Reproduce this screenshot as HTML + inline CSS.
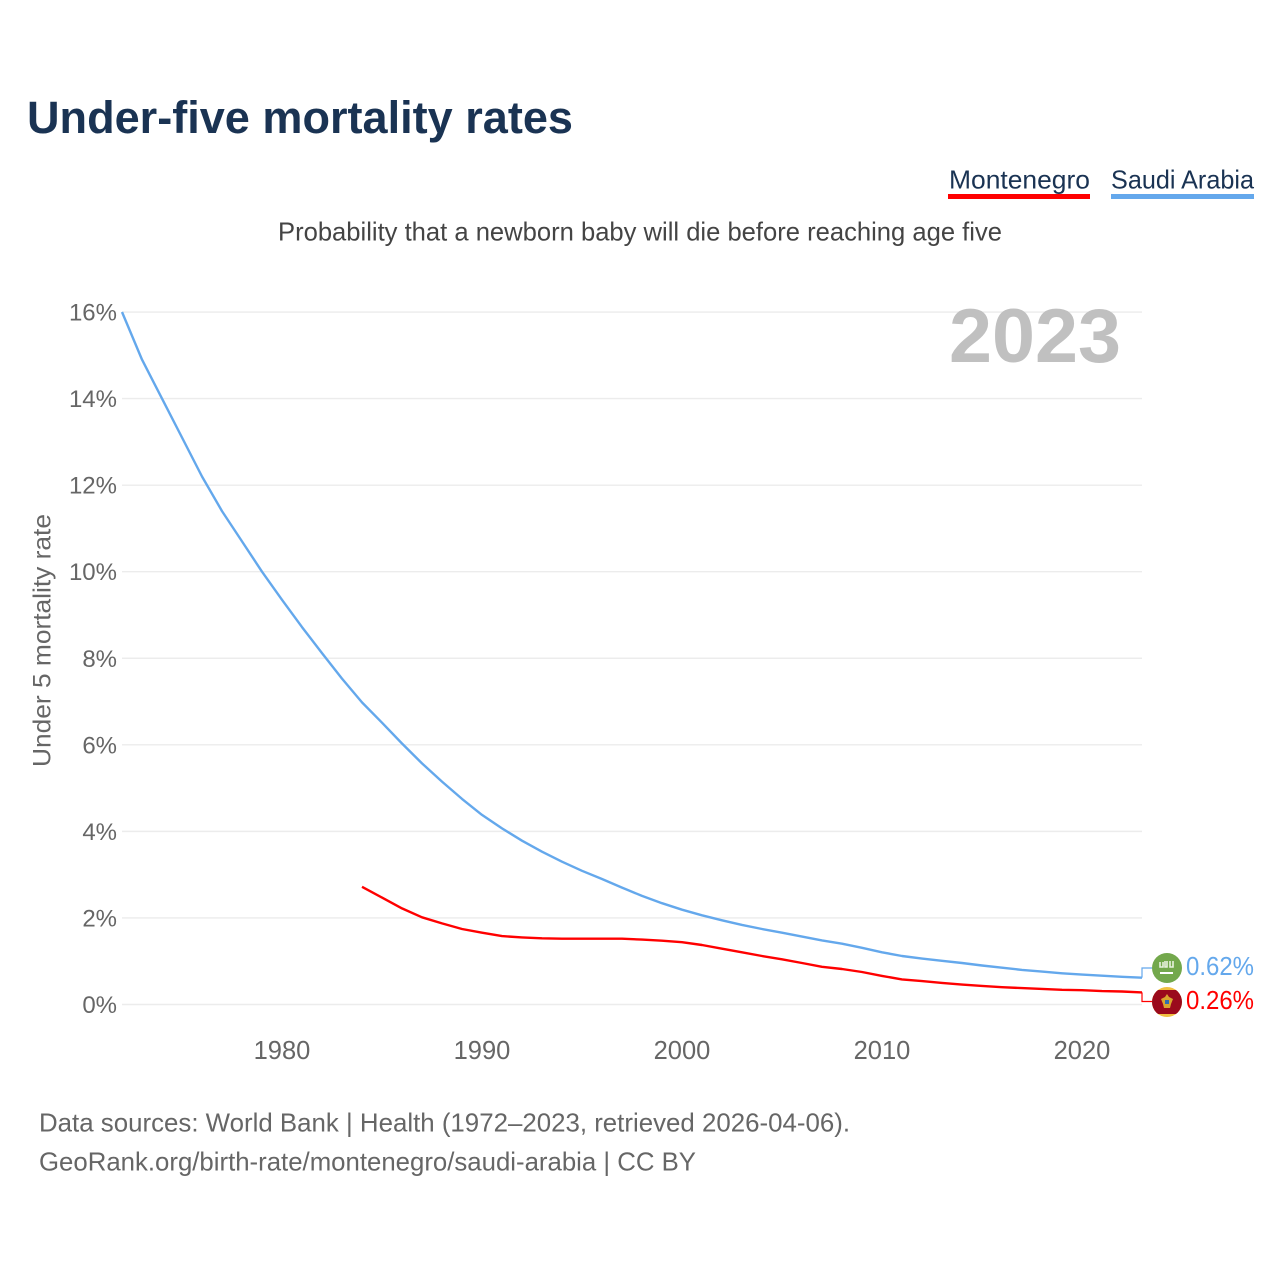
<!DOCTYPE html>
<html lang="en">
<head>
<meta charset="utf-8">
<title>Under-five mortality rates</title>
<style>
html,body{margin:0;padding:0;background:#fff;width:1280px;height:1280px;overflow:hidden}
svg{display:block}
text{font-family:"Liberation Sans",sans-serif}
</style>
</head>
<body>
<svg id="chart" width="1280" height="1280" viewBox="0 0 1280 1280" xmlns="http://www.w3.org/2000/svg">
  <defs>
    <clipPath id="flag-clip-me"><circle cx="1167" cy="1002" r="15"/></clipPath>
  </defs>
  <rect width="1280" height="1280" fill="#fff"/>
  <text x="27" y="133" font-size="45" font-weight="700" fill="#1a3353" textLength="546" lengthAdjust="spacingAndGlyphs">Under-five mortality rates</text>
  <g>
    <text x="949" y="188.5" font-size="26" fill="#1a3353" textLength="141" lengthAdjust="spacingAndGlyphs">Montenegro</text>
    <rect x="948" y="194" width="142" height="5" fill="#ff0000"/>
  </g>
  <g>
    <text x="1111" y="188.5" font-size="26" fill="#1a3353" textLength="143" lengthAdjust="spacingAndGlyphs">Saudi Arabia</text>
    <rect x="1111" y="194" width="143" height="5" fill="#64a8ec"/>
  </g>
  <text x="278" y="240.5" font-size="26" fill="#444" textLength="724" lengthAdjust="spacingAndGlyphs">Probability that a newborn baby will die before reaching age five</text>
  <g id="grid"></g>
  <g id="yticks"></g>
  <g id="xticks"></g>
  <text transform="translate(50.5,767) rotate(-90)" font-size="25" fill="#666" textLength="253" lengthAdjust="spacingAndGlyphs">Under 5 mortality rate</text>
  <text x="949" y="362" font-size="76" font-weight="700" fill="#c0c0c0" textLength="172" lengthAdjust="spacingAndGlyphs">2023</text>
  <g id="series"></g>
  <g>
    <circle cx="1167" cy="968" r="15" fill="#73a84c"/>
    <path d="M1160 962v5h3v-5M1165 961v6h2v-6M1170 961v6h3v-6" fill="none" stroke="#e8f1de" stroke-width="1.6"/>
    <path d="M1160 973h13" fill="none" stroke="#fff" stroke-width="2"/>
  </g>
  <g clip-path="url(#flag-clip-me)">
    <rect x="1152" y="987" width="30" height="30" fill="#f0c040"/>
    <rect x="1152" y="990" width="30" height="24" fill="#9a0a1c"/>
    <path d="M1167 994l2 3 4 2-2 5-1 4h-6l-1-4-2-5 4-2z" fill="#d9a62e"/>
    <rect x="1165" y="1000" width="4" height="4" fill="#2f6fb0"/>
  </g>
  <g id="endlabels"></g>
  <text x="39" y="1131.5" font-size="26" fill="#666" textLength="811" lengthAdjust="spacingAndGlyphs">Data sources: World Bank | Health (1972–2023, retrieved 2026-04-06).</text>
  <text x="39" y="1170.5" font-size="26" fill="#666" textLength="657" lengthAdjust="spacingAndGlyphs">GeoRank.org/birth-rate/montenegro/saudi-arabia | CC BY</text>
</svg>
<script>
var yTickValues = [0, 2, 4, 6, 8, 10, 12, 14, 16];
var xTickValues = [1980, 1990, 2000, 2010, 2020];
var saudiStartYear = 1972;
var saudiValues = [
  16.0, 14.9, 14.0, 13.1, 12.2, 11.4, 10.7, 10.0,
  9.35, 8.72, 8.12, 7.53, 6.98, 6.51, 6.03, 5.57, 5.15, 4.75, 4.38, 4.07,
  3.785, 3.53, 3.30, 3.09, 2.90, 2.70, 2.51, 2.34, 2.19, 2.06,
  1.945, 1.84, 1.745, 1.66, 1.57, 1.48, 1.405, 1.31, 1.205, 1.12,
  1.06, 1.01, 0.96, 0.90, 0.85, 0.80, 0.76, 0.72, 0.69, 0.665,
  0.64, 0.62
];
var montenegroStartYear = 1984;
var montenegroValues = [
  2.72, 2.47, 2.22, 2.015, 1.875, 1.745, 1.66, 1.58, 1.55, 1.53,
  1.52, 1.52, 1.52, 1.52, 1.50, 1.475, 1.44, 1.375, 1.29, 1.205,
  1.12, 1.045, 0.96, 0.87, 0.82, 0.75, 0.66, 0.58, 0.54, 0.50,
  0.46, 0.43, 0.40, 0.38, 0.36, 0.34, 0.33, 0.31, 0.30, 0.28
];
var saudiLabel = "0.62%";
var montenegroLabel = "0.26%";

var NS = "http://www.w3.org/2000/svg";
function xScale(year) { return 122 + (year - 1972) * 20; }
function yScale(v) { return 1004.5 - v * 43.28; }
function make(tag, parent, attrs) {
  var el = document.createElementNS(NS, tag);
  for (var k in attrs) el.setAttribute(k, attrs[k]);
  parent.appendChild(el);
  return el;
}
function linePath(start, values) {
  return values.map(function (v, i) {
    return (i ? "L" : "M") + xScale(start + i).toFixed(1) + " " + yScale(v).toFixed(1);
  }).join("");
}
var grid = document.getElementById("grid");
var yticks = document.getElementById("yticks");
var xticks = document.getElementById("xticks");
var series = document.getElementById("series");
var endlabels = document.getElementById("endlabels");

yTickValues.forEach(function (v) {
  var line = make("line", grid, { x1: 122, x2: 1142, y1: yScale(v), y2: yScale(v), stroke: "#ececec", "stroke-width": 1.4 });
  
  
  var t = make("text", yticks, { x: 117, y: yScale(v) + 8.5, "text-anchor": "end", "font-size": 24, fill: "#666" });
  t.textContent = v + "%";
  
  
});
xTickValues.forEach(function (y) {
  var t = make("text", xticks, { x: xScale(y), y: 1059, "text-anchor": "middle", "font-size": 25.5, fill: "#666" });
  t.textContent = y;
  
  
});

var saudiLine = make("path", series, { d: linePath(saudiStartYear, saudiValues), fill: "none", stroke: "#64a8ec", "stroke-width": 2.4, "stroke-linejoin": "round" });


var montenegroLine = make("path", series, { d: linePath(montenegroStartYear, montenegroValues), fill: "none", stroke: "#ff0000", "stroke-width": 2.4, "stroke-linejoin": "round" });



var saudiEndY = yScale(saudiValues[saudiValues.length - 1]);
var montenegroEndY = yScale(montenegroValues[montenegroValues.length - 1]);
var endX = xScale(saudiStartYear + saudiValues.length - 1);
var saudiConn = make("path", series, { d: "M" + endX + " " + saudiEndY + "V968H1152", fill: "none", stroke: "#64a8ec", "stroke-width": 1.2 });


var montenegroConn = make("path", series, { d: "M" + endX + " " + montenegroEndY + "V1001.5H1152", fill: "none", stroke: "#ff0000", "stroke-width": 1.2 });



var saudiText = make("text", endlabels, { x: 1186, y: 975, "font-size": 26, fill: "#64a8ec", textLength: 68, lengthAdjust: "spacingAndGlyphs" });
saudiText.textContent = saudiLabel;


var montenegroText = make("text", endlabels, { x: 1186, y: 1009, "font-size": 26, fill: "#ff0000", textLength: 68, lengthAdjust: "spacingAndGlyphs" });
montenegroText.textContent = montenegroLabel;


</script>
</body>
</html>
